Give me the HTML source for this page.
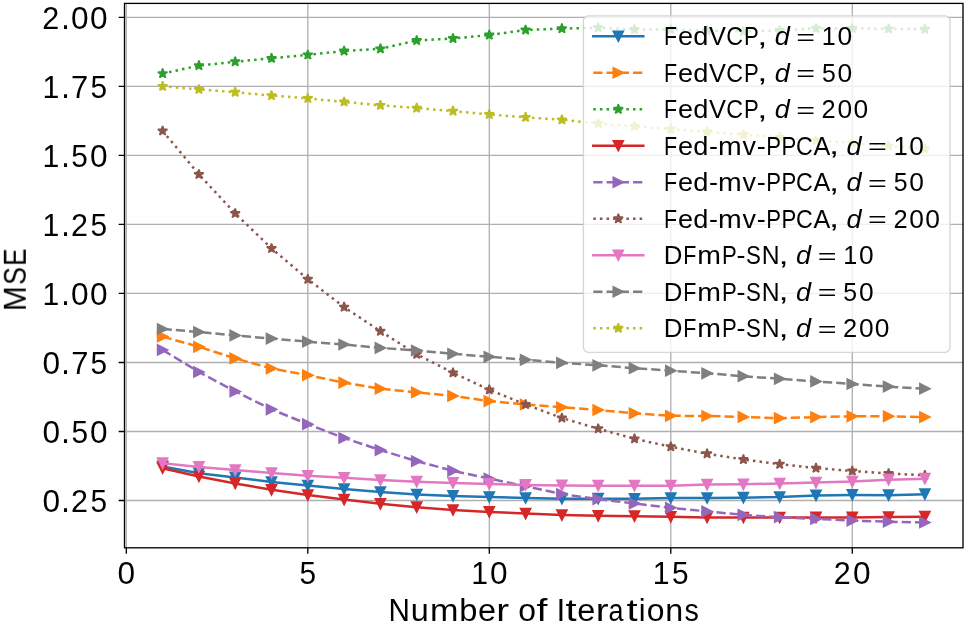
<!DOCTYPE html>
<html><head><meta charset="utf-8"><title>MSE vs Number of Iterations</title>
<style>html,body{margin:0;padding:0;background:#fff;overflow:hidden}svg{display:block}text{font-family:"Liberation Sans",sans-serif}</style></head>
<body><svg width="966" height="625" viewBox="0 0 966 625" font-family='"Liberation Sans", sans-serif'>
<rect width="966" height="625" fill="#fff"/>
<path d="M126.315 3.4V547.8M307.808 3.4V547.8M489.302 3.4V547.8M670.795 3.4V547.8M852.289 3.4V547.8M124.5 500.5H963M124.5 431.486H963M124.5 362.471H963M124.5 293.457H963M124.5 224.443H963M124.5 155.429H963M124.5 86.414H963M124.5 17.4H963" stroke="#b0b0b0" stroke-width="1.33" fill="none"/>
<clipPath id="ax"><rect x="124.5" y="3.4" width="838.5" height="544.4"/></clipPath>
<g clip-path="url(#ax)">
<path d="M162.614 466.4L198.912 473.3L235.211 477.4L271.51 482L307.808 485.6L344.107 489L380.406 492L416.705 494.5L453.003 495.9L489.302 497L525.601 498L561.899 498.7L598.198 498.7L634.497 498.8L670.795 498L707.094 498L743.393 497.7L779.692 497L815.99 495.4L852.289 494.9L888.588 495.2L924.886 494.2" stroke="#1f77b4" stroke-width="2.5" fill="none" stroke-linecap="square" stroke-linejoin="round"/>
<path d="M162.614 471.4L157.614 461.4L167.614 461.4ZM198.912 478.3L193.912 468.3L203.912 468.3ZM235.211 482.4L230.211 472.4L240.211 472.4ZM271.51 487L266.51 477L276.51 477ZM307.808 490.6L302.808 480.6L312.808 480.6ZM344.107 494L339.107 484L349.107 484ZM380.406 497L375.406 487L385.406 487ZM416.705 499.5L411.705 489.5L421.705 489.5ZM453.003 500.9L448.003 490.9L458.003 490.9ZM489.302 502L484.302 492L494.302 492ZM525.601 503L520.601 493L530.601 493ZM561.899 503.7L556.899 493.7L566.899 493.7ZM598.198 503.7L593.198 493.7L603.198 493.7ZM634.497 503.8L629.497 493.8L639.497 493.8ZM670.795 503L665.795 493L675.795 493ZM707.094 503L702.094 493L712.094 493ZM743.393 502.7L738.393 492.7L748.393 492.7ZM779.692 502L774.692 492L784.692 492ZM815.99 500.4L810.99 490.4L820.99 490.4ZM852.289 499.9L847.289 489.9L857.289 489.9ZM888.588 500.2L883.588 490.2L893.588 490.2ZM924.886 499.2L919.886 489.2L929.886 489.2Z" fill="#1f77b4" stroke="#1f77b4" stroke-width="1.67" stroke-linejoin="miter"/>
<path d="M162.614 336.6L198.912 346.8L235.211 358.4L271.51 368.5L307.808 375.2L344.107 382.7L380.406 388.7L416.705 392.4L453.003 395.9L489.302 401.1L525.601 404.5L561.899 407.3L598.198 410L634.497 413.3L670.795 415.8L707.094 416L743.393 416.9L779.692 418.2L815.99 417.1L852.289 416.3L888.588 416.3L924.886 417.1" stroke="#ff7f0e" stroke-width="2.5" fill="none" stroke-linecap="butt" stroke-linejoin="round" stroke-dasharray="9.25 4.00"/>
<path d="M167.614 336.6L157.614 331.6L157.614 341.6ZM203.912 346.8L193.912 341.8L193.912 351.8ZM240.211 358.4L230.211 353.4L230.211 363.4ZM276.51 368.5L266.51 363.5L266.51 373.5ZM312.808 375.2L302.808 370.2L302.808 380.2ZM349.107 382.7L339.107 377.7L339.107 387.7ZM385.406 388.7L375.406 383.7L375.406 393.7ZM421.705 392.4L411.705 387.4L411.705 397.4ZM458.003 395.9L448.003 390.9L448.003 400.9ZM494.302 401.1L484.302 396.1L484.302 406.1ZM530.601 404.5L520.601 399.5L520.601 409.5ZM566.899 407.3L556.899 402.3L556.899 412.3ZM603.198 410L593.198 405L593.198 415ZM639.497 413.3L629.497 408.3L629.497 418.3ZM675.795 415.8L665.795 410.8L665.795 420.8ZM712.094 416L702.094 411L702.094 421ZM748.393 416.9L738.393 411.9L738.393 421.9ZM784.692 418.2L774.692 413.2L774.692 423.2ZM820.99 417.1L810.99 412.1L810.99 422.1ZM857.289 416.3L847.289 411.3L847.289 421.3ZM893.588 416.3L883.588 411.3L883.588 421.3ZM929.886 417.1L919.886 412.1L919.886 422.1Z" fill="#ff7f0e" stroke="#ff7f0e" stroke-width="1.67" stroke-linejoin="miter"/>
<path d="M162.614 73.6L198.912 65.6L235.211 61.7L271.51 58.3L307.808 54.9L344.107 51L380.406 48.8L416.705 40.5L453.003 38.5L489.302 35L525.601 30L561.899 28.6L598.198 27.7L634.497 29.5L670.795 29.5L707.094 30.5L743.393 31.5L779.692 30.5L815.99 28.4L852.289 28.4L888.588 28.8L924.886 29.2" stroke="#2ca02c" stroke-width="2.5" fill="none" stroke-linecap="butt" stroke-linejoin="round" stroke-dasharray="2.50 4.12"/>
<path d="M162.614 68.6L161.491 72.055L157.858 72.055L160.797 74.19L159.675 77.645L162.614 75.51L165.553 77.645L164.43 74.19L167.369 72.055L163.736 72.055ZM198.912 60.6L197.79 64.055L194.157 64.055L197.096 66.19L195.973 69.645L198.912 67.51L201.851 69.645L200.729 66.19L203.668 64.055L200.035 64.055ZM235.211 56.7L234.088 60.155L230.456 60.155L233.395 62.29L232.272 65.745L235.211 63.61L238.15 65.745L237.027 62.29L239.966 60.155L236.334 60.155ZM271.51 53.3L270.387 56.755L266.754 56.755L269.693 58.89L268.571 62.345L271.51 60.21L274.449 62.345L273.326 58.89L276.265 56.755L272.632 56.755ZM307.808 49.9L306.686 53.355L303.053 53.355L305.992 55.49L304.87 58.945L307.808 56.81L310.747 58.945L309.625 55.49L312.564 53.355L308.931 53.355ZM344.107 46L342.985 49.455L339.352 49.455L342.291 51.59L341.168 55.045L344.107 52.91L347.046 55.045L345.923 51.59L348.862 49.455L345.23 49.455ZM380.406 43.8L379.283 47.255L375.651 47.255L378.589 49.39L377.467 52.845L380.406 50.71L383.345 52.845L382.222 49.39L385.161 47.255L381.528 47.255ZM416.705 35.5L415.582 38.955L411.949 38.955L414.888 41.09L413.766 44.545L416.705 42.41L419.643 44.545L418.521 41.09L421.46 38.955L417.827 38.955ZM453.003 33.5L451.881 36.955L448.248 36.955L451.187 39.09L450.064 42.545L453.003 40.41L455.942 42.545L454.82 39.09L457.759 36.955L454.126 36.955ZM489.302 30L488.179 33.455L484.547 33.455L487.486 35.59L486.363 39.045L489.302 36.91L492.241 39.045L491.118 35.59L494.057 33.455L490.425 33.455ZM525.601 25L524.478 28.455L520.845 28.455L523.784 30.59L522.662 34.045L525.601 31.91L528.54 34.045L527.417 30.59L530.356 28.455L526.723 28.455ZM561.899 23.6L560.777 27.055L557.144 27.055L560.083 29.19L558.96 32.645L561.899 30.51L564.838 32.645L563.716 29.19L566.655 27.055L563.022 27.055ZM598.198 22.7L597.075 26.155L593.443 26.155L596.382 28.29L595.259 31.745L598.198 29.61L601.137 31.745L600.014 28.29L602.953 26.155L599.321 26.155ZM634.497 24.5L633.374 27.955L629.741 27.955L632.68 30.09L631.558 33.545L634.497 31.41L637.436 33.545L636.313 30.09L639.252 27.955L635.619 27.955ZM670.795 24.5L669.673 27.955L666.04 27.955L668.979 30.09L667.857 33.545L670.795 31.41L673.734 33.545L672.612 30.09L675.551 27.955L671.918 27.955ZM707.094 25.5L705.972 28.955L702.339 28.955L705.278 31.09L704.155 34.545L707.094 32.41L710.033 34.545L708.911 31.09L711.849 28.955L708.217 28.955ZM743.393 26.5L742.27 29.955L738.638 29.955L741.577 32.09L740.454 35.545L743.393 33.41L746.332 35.545L745.209 32.09L748.148 29.955L744.515 29.955ZM779.692 25.5L778.569 28.955L774.936 28.955L777.875 31.09L776.753 34.545L779.692 32.41L782.63 34.545L781.508 31.09L784.447 28.955L780.814 28.955ZM815.99 23.4L814.868 26.855L811.235 26.855L814.174 28.99L813.051 32.445L815.99 30.31L818.929 32.445L817.807 28.99L820.746 26.855L817.113 26.855ZM852.289 23.4L851.166 26.855L847.534 26.855L850.473 28.99L849.35 32.445L852.289 30.31L855.228 32.445L854.105 28.99L857.044 26.855L853.412 26.855ZM888.588 23.8L887.465 27.255L883.832 27.255L886.771 29.39L885.649 32.845L888.588 30.71L891.527 32.845L890.404 29.39L893.343 27.255L889.71 27.255ZM924.886 24.2L923.764 27.655L920.131 27.655L923.07 29.79L921.947 33.245L924.886 31.11L927.825 33.245L926.703 29.79L929.642 27.655L926.009 27.655Z" fill="#2ca02c" stroke="#2ca02c" stroke-width="1.67" stroke-linejoin="bevel"/>
<path d="M162.614 468.2L198.912 476.5L235.211 483.4L271.51 489.8L307.808 495.1L344.107 499.6L380.406 503.8L416.705 507.2L453.003 510L489.302 511.9L525.601 513.6L561.899 515.1L598.198 515.8L634.497 516.2L670.795 516.8L707.094 517.4L743.393 517.5L779.692 517.5L815.99 517.4L852.289 517.4L888.588 517.1L924.886 516.7" stroke="#d62728" stroke-width="2.5" fill="none" stroke-linecap="square" stroke-linejoin="round"/>
<path d="M162.614 473.2L157.614 463.2L167.614 463.2ZM198.912 481.5L193.912 471.5L203.912 471.5ZM235.211 488.4L230.211 478.4L240.211 478.4ZM271.51 494.8L266.51 484.8L276.51 484.8ZM307.808 500.1L302.808 490.1L312.808 490.1ZM344.107 504.6L339.107 494.6L349.107 494.6ZM380.406 508.8L375.406 498.8L385.406 498.8ZM416.705 512.2L411.705 502.2L421.705 502.2ZM453.003 515L448.003 505L458.003 505ZM489.302 516.9L484.302 506.9L494.302 506.9ZM525.601 518.6L520.601 508.6L530.601 508.6ZM561.899 520.1L556.899 510.1L566.899 510.1ZM598.198 520.8L593.198 510.8L603.198 510.8ZM634.497 521.2L629.497 511.2L639.497 511.2ZM670.795 521.8L665.795 511.8L675.795 511.8ZM707.094 522.4L702.094 512.4L712.094 512.4ZM743.393 522.5L738.393 512.5L748.393 512.5ZM779.692 522.5L774.692 512.5L784.692 512.5ZM815.99 522.4L810.99 512.4L820.99 512.4ZM852.289 522.4L847.289 512.4L857.289 512.4ZM888.588 522.1L883.588 512.1L893.588 512.1ZM924.886 521.7L919.886 511.7L929.886 511.7Z" fill="#d62728" stroke="#d62728" stroke-width="1.67" stroke-linejoin="miter"/>
<path d="M162.614 349.9L198.912 372L235.211 391.4L271.51 409.3L307.808 424.2L344.107 438L380.406 450.1L416.705 461.2L453.003 470.8L489.302 478.6L525.601 486.2L561.899 494.1L598.198 499.1L634.497 503.5L670.795 507.8L707.094 511.4L743.393 514.8L779.692 517.2L815.99 518.9L852.289 520.6L888.588 521.7L924.886 522.5" stroke="#9467bd" stroke-width="2.5" fill="none" stroke-linecap="butt" stroke-linejoin="round" stroke-dasharray="9.25 4.00"/>
<path d="M167.614 349.9L157.614 344.9L157.614 354.9ZM203.912 372L193.912 367L193.912 377ZM240.211 391.4L230.211 386.4L230.211 396.4ZM276.51 409.3L266.51 404.3L266.51 414.3ZM312.808 424.2L302.808 419.2L302.808 429.2ZM349.107 438L339.107 433L339.107 443ZM385.406 450.1L375.406 445.1L375.406 455.1ZM421.705 461.2L411.705 456.2L411.705 466.2ZM458.003 470.8L448.003 465.8L448.003 475.8ZM494.302 478.6L484.302 473.6L484.302 483.6ZM530.601 486.2L520.601 481.2L520.601 491.2ZM566.899 494.1L556.899 489.1L556.899 499.1ZM603.198 499.1L593.198 494.1L593.198 504.1ZM639.497 503.5L629.497 498.5L629.497 508.5ZM675.795 507.8L665.795 502.8L665.795 512.8ZM712.094 511.4L702.094 506.4L702.094 516.4ZM748.393 514.8L738.393 509.8L738.393 519.8ZM784.692 517.2L774.692 512.2L774.692 522.2ZM820.99 518.9L810.99 513.9L810.99 523.9ZM857.289 520.6L847.289 515.6L847.289 525.6ZM893.588 521.7L883.588 516.7L883.588 526.7ZM929.886 522.5L919.886 517.5L919.886 527.5Z" fill="#9467bd" stroke="#9467bd" stroke-width="1.67" stroke-linejoin="miter"/>
<path d="M162.614 130.9L198.912 174.4L235.211 213.4L271.51 248.4L307.808 279.2L344.107 307.1L380.406 331.2L416.705 354.2L453.003 372.8L489.302 389.8L525.601 404.5L561.899 418L598.198 428.7L634.497 438.8L670.795 446.7L707.094 453.7L743.393 459.5L779.692 464.2L815.99 468.1L852.289 471L888.588 473.5L924.886 475.3" stroke="#8c564b" stroke-width="2.5" fill="none" stroke-linecap="butt" stroke-linejoin="round" stroke-dasharray="2.50 4.12"/>
<path d="M162.614 125.9L161.491 129.355L157.858 129.355L160.797 131.49L159.675 134.945L162.614 132.81L165.553 134.945L164.43 131.49L167.369 129.355L163.736 129.355ZM198.912 169.4L197.79 172.855L194.157 172.855L197.096 174.99L195.973 178.445L198.912 176.31L201.851 178.445L200.729 174.99L203.668 172.855L200.035 172.855ZM235.211 208.4L234.088 211.855L230.456 211.855L233.395 213.99L232.272 217.445L235.211 215.31L238.15 217.445L237.027 213.99L239.966 211.855L236.334 211.855ZM271.51 243.4L270.387 246.855L266.754 246.855L269.693 248.99L268.571 252.445L271.51 250.31L274.449 252.445L273.326 248.99L276.265 246.855L272.632 246.855ZM307.808 274.2L306.686 277.655L303.053 277.655L305.992 279.79L304.87 283.245L307.808 281.11L310.747 283.245L309.625 279.79L312.564 277.655L308.931 277.655ZM344.107 302.1L342.985 305.555L339.352 305.555L342.291 307.69L341.168 311.145L344.107 309.01L347.046 311.145L345.923 307.69L348.862 305.555L345.23 305.555ZM380.406 326.2L379.283 329.655L375.651 329.655L378.589 331.79L377.467 335.245L380.406 333.11L383.345 335.245L382.222 331.79L385.161 329.655L381.528 329.655ZM416.705 349.2L415.582 352.655L411.949 352.655L414.888 354.79L413.766 358.245L416.705 356.11L419.643 358.245L418.521 354.79L421.46 352.655L417.827 352.655ZM453.003 367.8L451.881 371.255L448.248 371.255L451.187 373.39L450.064 376.845L453.003 374.71L455.942 376.845L454.82 373.39L457.759 371.255L454.126 371.255ZM489.302 384.8L488.179 388.255L484.547 388.255L487.486 390.39L486.363 393.845L489.302 391.71L492.241 393.845L491.118 390.39L494.057 388.255L490.425 388.255ZM525.601 399.5L524.478 402.955L520.845 402.955L523.784 405.09L522.662 408.545L525.601 406.41L528.54 408.545L527.417 405.09L530.356 402.955L526.723 402.955ZM561.899 413L560.777 416.455L557.144 416.455L560.083 418.59L558.96 422.045L561.899 419.91L564.838 422.045L563.716 418.59L566.655 416.455L563.022 416.455ZM598.198 423.7L597.075 427.155L593.443 427.155L596.382 429.29L595.259 432.745L598.198 430.61L601.137 432.745L600.014 429.29L602.953 427.155L599.321 427.155ZM634.497 433.8L633.374 437.255L629.741 437.255L632.68 439.39L631.558 442.845L634.497 440.71L637.436 442.845L636.313 439.39L639.252 437.255L635.619 437.255ZM670.795 441.7L669.673 445.155L666.04 445.155L668.979 447.29L667.857 450.745L670.795 448.61L673.734 450.745L672.612 447.29L675.551 445.155L671.918 445.155ZM707.094 448.7L705.972 452.155L702.339 452.155L705.278 454.29L704.155 457.745L707.094 455.61L710.033 457.745L708.911 454.29L711.849 452.155L708.217 452.155ZM743.393 454.5L742.27 457.955L738.638 457.955L741.577 460.09L740.454 463.545L743.393 461.41L746.332 463.545L745.209 460.09L748.148 457.955L744.515 457.955ZM779.692 459.2L778.569 462.655L774.936 462.655L777.875 464.79L776.753 468.245L779.692 466.11L782.63 468.245L781.508 464.79L784.447 462.655L780.814 462.655ZM815.99 463.1L814.868 466.555L811.235 466.555L814.174 468.69L813.051 472.145L815.99 470.01L818.929 472.145L817.807 468.69L820.746 466.555L817.113 466.555ZM852.289 466L851.166 469.455L847.534 469.455L850.473 471.59L849.35 475.045L852.289 472.91L855.228 475.045L854.105 471.59L857.044 469.455L853.412 469.455ZM888.588 468.5L887.465 471.955L883.832 471.955L886.771 474.09L885.649 477.545L888.588 475.41L891.527 477.545L890.404 474.09L893.343 471.955L889.71 471.955ZM924.886 470.3L923.764 473.755L920.131 473.755L923.07 475.89L921.947 479.345L924.886 477.21L927.825 479.345L926.703 475.89L929.642 473.755L926.009 473.755Z" fill="#8c564b" stroke="#8c564b" stroke-width="1.67" stroke-linejoin="bevel"/>
<path d="M162.614 463.2L198.912 466.9L235.211 470.1L271.51 473L307.808 475.8L344.107 477.8L380.406 480.1L416.705 481.7L453.003 482.9L489.302 483.9L525.601 484.9L561.899 485.4L598.198 485.7L634.497 485.7L670.795 485.7L707.094 484.6L743.393 484.3L779.692 483.5L815.99 482.6L852.289 481.6L888.588 479.7L924.886 478.7" stroke="#e377c2" stroke-width="2.5" fill="none" stroke-linecap="square" stroke-linejoin="round"/>
<path d="M162.614 468.2L157.614 458.2L167.614 458.2ZM198.912 471.9L193.912 461.9L203.912 461.9ZM235.211 475.1L230.211 465.1L240.211 465.1ZM271.51 478L266.51 468L276.51 468ZM307.808 480.8L302.808 470.8L312.808 470.8ZM344.107 482.8L339.107 472.8L349.107 472.8ZM380.406 485.1L375.406 475.1L385.406 475.1ZM416.705 486.7L411.705 476.7L421.705 476.7ZM453.003 487.9L448.003 477.9L458.003 477.9ZM489.302 488.9L484.302 478.9L494.302 478.9ZM525.601 489.9L520.601 479.9L530.601 479.9ZM561.899 490.4L556.899 480.4L566.899 480.4ZM598.198 490.7L593.198 480.7L603.198 480.7ZM634.497 490.7L629.497 480.7L639.497 480.7ZM670.795 490.7L665.795 480.7L675.795 480.7ZM707.094 489.6L702.094 479.6L712.094 479.6ZM743.393 489.3L738.393 479.3L748.393 479.3ZM779.692 488.5L774.692 478.5L784.692 478.5ZM815.99 487.6L810.99 477.6L820.99 477.6ZM852.289 486.6L847.289 476.6L857.289 476.6ZM888.588 484.7L883.588 474.7L893.588 474.7ZM924.886 483.7L919.886 473.7L929.886 473.7Z" fill="#e377c2" stroke="#e377c2" stroke-width="1.67" stroke-linejoin="miter"/>
<path d="M162.614 329L198.912 332L235.211 335.4L271.51 338.6L307.808 341.7L344.107 344.5L380.406 347.9L416.705 350.5L453.003 353.8L489.302 356.8L525.601 359.8L561.899 362.8L598.198 365.3L634.497 368.2L670.795 370.7L707.094 373.3L743.393 376.2L779.692 378.8L815.99 381.4L852.289 384L888.588 386.6L924.886 388.7" stroke="#7f7f7f" stroke-width="2.5" fill="none" stroke-linecap="butt" stroke-linejoin="round" stroke-dasharray="9.25 4.00"/>
<path d="M167.614 329L157.614 324L157.614 334ZM203.912 332L193.912 327L193.912 337ZM240.211 335.4L230.211 330.4L230.211 340.4ZM276.51 338.6L266.51 333.6L266.51 343.6ZM312.808 341.7L302.808 336.7L302.808 346.7ZM349.107 344.5L339.107 339.5L339.107 349.5ZM385.406 347.9L375.406 342.9L375.406 352.9ZM421.705 350.5L411.705 345.5L411.705 355.5ZM458.003 353.8L448.003 348.8L448.003 358.8ZM494.302 356.8L484.302 351.8L484.302 361.8ZM530.601 359.8L520.601 354.8L520.601 364.8ZM566.899 362.8L556.899 357.8L556.899 367.8ZM603.198 365.3L593.198 360.3L593.198 370.3ZM639.497 368.2L629.497 363.2L629.497 373.2ZM675.795 370.7L665.795 365.7L665.795 375.7ZM712.094 373.3L702.094 368.3L702.094 378.3ZM748.393 376.2L738.393 371.2L738.393 381.2ZM784.692 378.8L774.692 373.8L774.692 383.8ZM820.99 381.4L810.99 376.4L810.99 386.4ZM857.289 384L847.289 379L847.289 389ZM893.588 386.6L883.588 381.6L883.588 391.6ZM929.886 388.7L919.886 383.7L919.886 393.7Z" fill="#7f7f7f" stroke="#7f7f7f" stroke-width="1.67" stroke-linejoin="miter"/>
<path d="M162.614 86.3L198.912 89.4L235.211 92.2L271.51 95.6L307.808 98.4L344.107 101.9L380.406 105.3L416.705 108.1L453.003 111.1L489.302 114.4L525.601 117.3L561.899 119.8L598.198 123.5L634.497 126.2L670.795 129.1L707.094 131.7L743.393 134.7L779.692 137.3L815.99 140.3L852.289 142.9L888.588 145.9L924.886 148.9" stroke="#bcbd22" stroke-width="2.5" fill="none" stroke-linecap="butt" stroke-linejoin="round" stroke-dasharray="2.50 4.12"/>
<path d="M162.614 81.3L161.491 84.755L157.858 84.755L160.797 86.89L159.675 90.345L162.614 88.21L165.553 90.345L164.43 86.89L167.369 84.755L163.736 84.755ZM198.912 84.4L197.79 87.855L194.157 87.855L197.096 89.99L195.973 93.445L198.912 91.31L201.851 93.445L200.729 89.99L203.668 87.855L200.035 87.855ZM235.211 87.2L234.088 90.655L230.456 90.655L233.395 92.79L232.272 96.245L235.211 94.11L238.15 96.245L237.027 92.79L239.966 90.655L236.334 90.655ZM271.51 90.6L270.387 94.055L266.754 94.055L269.693 96.19L268.571 99.645L271.51 97.51L274.449 99.645L273.326 96.19L276.265 94.055L272.632 94.055ZM307.808 93.4L306.686 96.855L303.053 96.855L305.992 98.99L304.87 102.445L307.808 100.31L310.747 102.445L309.625 98.99L312.564 96.855L308.931 96.855ZM344.107 96.9L342.985 100.355L339.352 100.355L342.291 102.49L341.168 105.945L344.107 103.81L347.046 105.945L345.923 102.49L348.862 100.355L345.23 100.355ZM380.406 100.3L379.283 103.755L375.651 103.755L378.589 105.89L377.467 109.345L380.406 107.21L383.345 109.345L382.222 105.89L385.161 103.755L381.528 103.755ZM416.705 103.1L415.582 106.555L411.949 106.555L414.888 108.69L413.766 112.145L416.705 110.01L419.643 112.145L418.521 108.69L421.46 106.555L417.827 106.555ZM453.003 106.1L451.881 109.555L448.248 109.555L451.187 111.69L450.064 115.145L453.003 113.01L455.942 115.145L454.82 111.69L457.759 109.555L454.126 109.555ZM489.302 109.4L488.179 112.855L484.547 112.855L487.486 114.99L486.363 118.445L489.302 116.31L492.241 118.445L491.118 114.99L494.057 112.855L490.425 112.855ZM525.601 112.3L524.478 115.755L520.845 115.755L523.784 117.89L522.662 121.345L525.601 119.21L528.54 121.345L527.417 117.89L530.356 115.755L526.723 115.755ZM561.899 114.8L560.777 118.255L557.144 118.255L560.083 120.39L558.96 123.845L561.899 121.71L564.838 123.845L563.716 120.39L566.655 118.255L563.022 118.255ZM598.198 118.5L597.075 121.955L593.443 121.955L596.382 124.09L595.259 127.545L598.198 125.41L601.137 127.545L600.014 124.09L602.953 121.955L599.321 121.955ZM634.497 121.2L633.374 124.655L629.741 124.655L632.68 126.79L631.558 130.245L634.497 128.11L637.436 130.245L636.313 126.79L639.252 124.655L635.619 124.655ZM670.795 124.1L669.673 127.555L666.04 127.555L668.979 129.69L667.857 133.145L670.795 131.01L673.734 133.145L672.612 129.69L675.551 127.555L671.918 127.555ZM707.094 126.7L705.972 130.155L702.339 130.155L705.278 132.29L704.155 135.745L707.094 133.61L710.033 135.745L708.911 132.29L711.849 130.155L708.217 130.155ZM743.393 129.7L742.27 133.155L738.638 133.155L741.577 135.29L740.454 138.745L743.393 136.61L746.332 138.745L745.209 135.29L748.148 133.155L744.515 133.155ZM779.692 132.3L778.569 135.755L774.936 135.755L777.875 137.89L776.753 141.345L779.692 139.21L782.63 141.345L781.508 137.89L784.447 135.755L780.814 135.755ZM815.99 135.3L814.868 138.755L811.235 138.755L814.174 140.89L813.051 144.345L815.99 142.21L818.929 144.345L817.807 140.89L820.746 138.755L817.113 138.755ZM852.289 137.9L851.166 141.355L847.534 141.355L850.473 143.49L849.35 146.945L852.289 144.81L855.228 146.945L854.105 143.49L857.044 141.355L853.412 141.355ZM888.588 140.9L887.465 144.355L883.832 144.355L886.771 146.49L885.649 149.945L888.588 147.81L891.527 149.945L890.404 146.49L893.343 144.355L889.71 144.355ZM924.886 143.9L923.764 147.355L920.131 147.355L923.07 149.49L921.947 152.945L924.886 150.81L927.825 152.945L926.703 149.49L929.642 147.355L926.009 147.355Z" fill="#bcbd22" stroke="#bcbd22" stroke-width="1.67" stroke-linejoin="bevel"/>
</g>
<rect x="124.5" y="3.4" width="838.5" height="544.4" fill="none" stroke="#000" stroke-width="1.33" stroke-linejoin="miter"/>
<path d="M118.67 500.5H124.5M118.67 431.486H124.5M118.67 362.471H124.5M118.67 293.457H124.5M118.67 224.443H124.5M118.67 155.429H124.5M118.67 86.414H124.5M118.67 17.4H124.5M126.315 547.8V553.63M307.808 547.8V553.63M489.302 547.8V553.63M670.795 547.8V553.63M852.289 547.8V553.63" stroke="#000" stroke-width="1.33" fill="none"/>
<rect x="583.4" y="15.8" width="366.6" height="336.5" rx="5" ry="5" fill="#fff" fill-opacity="0.8" stroke="#ccc" stroke-opacity="0.8" stroke-width="1.33"/>
<path d="M593.3 36.25L643.3 36.25" stroke="#1f77b4" stroke-width="2.5" fill="none" stroke-linecap="square" stroke-linejoin="round"/>
<path d="M618.3 41.25L613.3 31.25L623.3 31.25Z" fill="#1f77b4" stroke="#1f77b4" stroke-width="1.67" stroke-linejoin="miter"/>
<path d="M593.3 72.75L643.3 72.75" stroke="#ff7f0e" stroke-width="2.5" fill="none" stroke-linecap="butt" stroke-linejoin="round" stroke-dasharray="9.25 4.00"/>
<path d="M623.3 72.75L613.3 67.75L613.3 77.75Z" fill="#ff7f0e" stroke="#ff7f0e" stroke-width="1.67" stroke-linejoin="miter"/>
<path d="M593.3 109.25L643.3 109.25" stroke="#2ca02c" stroke-width="2.5" fill="none" stroke-linecap="butt" stroke-linejoin="round" stroke-dasharray="2.50 4.12"/>
<path d="M618.3 104.25L617.177 107.705L613.545 107.705L616.484 109.84L615.361 113.295L618.3 111.16L621.239 113.295L620.116 109.84L623.055 107.705L619.423 107.705Z" fill="#2ca02c" stroke="#2ca02c" stroke-width="1.67" stroke-linejoin="bevel"/>
<path d="M593.3 145.75L643.3 145.75" stroke="#d62728" stroke-width="2.5" fill="none" stroke-linecap="square" stroke-linejoin="round"/>
<path d="M618.3 150.75L613.3 140.75L623.3 140.75Z" fill="#d62728" stroke="#d62728" stroke-width="1.67" stroke-linejoin="miter"/>
<path d="M593.3 182.25L643.3 182.25" stroke="#9467bd" stroke-width="2.5" fill="none" stroke-linecap="butt" stroke-linejoin="round" stroke-dasharray="9.25 4.00"/>
<path d="M623.3 182.25L613.3 177.25L613.3 187.25Z" fill="#9467bd" stroke="#9467bd" stroke-width="1.67" stroke-linejoin="miter"/>
<path d="M593.3 218.75L643.3 218.75" stroke="#8c564b" stroke-width="2.5" fill="none" stroke-linecap="butt" stroke-linejoin="round" stroke-dasharray="2.50 4.12"/>
<path d="M618.3 213.75L617.177 217.205L613.545 217.205L616.484 219.34L615.361 222.795L618.3 220.66L621.239 222.795L620.116 219.34L623.055 217.205L619.423 217.205Z" fill="#8c564b" stroke="#8c564b" stroke-width="1.67" stroke-linejoin="bevel"/>
<path d="M593.3 255.25L643.3 255.25" stroke="#e377c2" stroke-width="2.5" fill="none" stroke-linecap="square" stroke-linejoin="round"/>
<path d="M618.3 260.25L613.3 250.25L623.3 250.25Z" fill="#e377c2" stroke="#e377c2" stroke-width="1.67" stroke-linejoin="miter"/>
<path d="M593.3 291.75L643.3 291.75" stroke="#7f7f7f" stroke-width="2.5" fill="none" stroke-linecap="butt" stroke-linejoin="round" stroke-dasharray="9.25 4.00"/>
<path d="M623.3 291.75L613.3 286.75L613.3 296.75Z" fill="#7f7f7f" stroke="#7f7f7f" stroke-width="1.67" stroke-linejoin="miter"/>
<path d="M593.3 328.25L643.3 328.25" stroke="#bcbd22" stroke-width="2.5" fill="none" stroke-linecap="butt" stroke-linejoin="round" stroke-dasharray="2.50 4.12"/>
<path d="M618.3 323.25L617.177 326.705L613.545 326.705L616.484 328.84L615.361 332.295L618.3 330.16L621.239 332.295L620.116 328.84L623.055 326.705L619.423 326.705Z" fill="#bcbd22" stroke="#bcbd22" stroke-width="1.67" stroke-linejoin="bevel"/>
<g fill="#000" style="will-change:opacity;opacity:0.999"><text font-size="30" transform="translate(41.598 29.17)"><tspan x="0.666" y="0" font-size="31.888" textLength="16.95" lengthAdjust="spacingAndGlyphs">2</tspan><tspan x="19.326" y="0" font-size="34.805" textLength="9.027" lengthAdjust="spacingAndGlyphs">.</tspan><tspan x="29.366" y="0.114" font-size="32.051" textLength="17.588" lengthAdjust="spacingAndGlyphs">0</tspan><tspan x="48.453" y="0.114" font-size="32.051" textLength="17.588" lengthAdjust="spacingAndGlyphs">0</tspan></text>
<text font-size="30" transform="translate(41.614 98.173)"><tspan x="0.995" y="0" font-size="31.791" textLength="16.797" lengthAdjust="spacingAndGlyphs">1</tspan><tspan x="19.326" y="0" font-size="34.805" textLength="9.027" lengthAdjust="spacingAndGlyphs">.</tspan><tspan x="29.498" y="0" font-size="31.791" textLength="17.204" lengthAdjust="spacingAndGlyphs">7</tspan><tspan x="48.831" y="0.114" font-size="31.957" textLength="16.6" lengthAdjust="spacingAndGlyphs">5</tspan></text>
<text font-size="30" transform="translate(41.6 167.17)"><tspan x="0.995" y="0" font-size="31.791" textLength="16.797" lengthAdjust="spacingAndGlyphs">1</tspan><tspan x="19.326" y="0" font-size="34.805" textLength="9.027" lengthAdjust="spacingAndGlyphs">.</tspan><tspan x="29.744" y="0.114" font-size="31.957" textLength="16.6" lengthAdjust="spacingAndGlyphs">5</tspan><tspan x="48.453" y="0.114" font-size="32.051" textLength="17.588" lengthAdjust="spacingAndGlyphs">0</tspan></text>
<text font-size="30" transform="translate(41.614 236.17)"><tspan x="0.995" y="0" font-size="31.791" textLength="16.797" lengthAdjust="spacingAndGlyphs">1</tspan><tspan x="19.326" y="0" font-size="34.805" textLength="9.027" lengthAdjust="spacingAndGlyphs">.</tspan><tspan x="29.289" y="0" font-size="31.888" textLength="16.95" lengthAdjust="spacingAndGlyphs">2</tspan><tspan x="48.831" y="0.114" font-size="31.957" textLength="16.6" lengthAdjust="spacingAndGlyphs">5</tspan></text>
<text font-size="30" transform="translate(41.6 305.27)"><tspan x="0.995" y="0" font-size="31.791" textLength="16.797" lengthAdjust="spacingAndGlyphs">1</tspan><tspan x="19.326" y="0" font-size="34.805" textLength="9.027" lengthAdjust="spacingAndGlyphs">.</tspan><tspan x="29.366" y="0.114" font-size="32.051" textLength="17.588" lengthAdjust="spacingAndGlyphs">0</tspan><tspan x="48.453" y="0.114" font-size="32.051" textLength="17.588" lengthAdjust="spacingAndGlyphs">0</tspan></text>
<text font-size="30" transform="translate(41.672 374.27)"><tspan x="0.743" y="0.114" font-size="32.051" textLength="17.588" lengthAdjust="spacingAndGlyphs">0</tspan><tspan x="19.326" y="0" font-size="34.805" textLength="9.027" lengthAdjust="spacingAndGlyphs">.</tspan><tspan x="29.498" y="0" font-size="31.791" textLength="17.204" lengthAdjust="spacingAndGlyphs">7</tspan><tspan x="48.831" y="0.114" font-size="31.957" textLength="16.6" lengthAdjust="spacingAndGlyphs">5</tspan></text>
<text font-size="30" transform="translate(41.658 443.27)"><tspan x="0.743" y="0.114" font-size="32.051" textLength="17.588" lengthAdjust="spacingAndGlyphs">0</tspan><tspan x="19.326" y="0" font-size="34.805" textLength="9.027" lengthAdjust="spacingAndGlyphs">.</tspan><tspan x="29.744" y="0.114" font-size="31.957" textLength="16.6" lengthAdjust="spacingAndGlyphs">5</tspan><tspan x="48.453" y="0.114" font-size="32.051" textLength="17.588" lengthAdjust="spacingAndGlyphs">0</tspan></text>
<text font-size="30" transform="translate(41.672 512.27)"><tspan x="0.743" y="0.114" font-size="32.051" textLength="17.588" lengthAdjust="spacingAndGlyphs">0</tspan><tspan x="19.326" y="0" font-size="34.805" textLength="9.027" lengthAdjust="spacingAndGlyphs">.</tspan><tspan x="29.289" y="0" font-size="31.888" textLength="16.95" lengthAdjust="spacingAndGlyphs">2</tspan><tspan x="48.831" y="0.114" font-size="31.957" textLength="16.6" lengthAdjust="spacingAndGlyphs">5</tspan></text>
<text font-size="30" transform="translate(116.813 584.27)"><tspan x="0.743" y="0.114" font-size="32.051" textLength="17.588" lengthAdjust="spacingAndGlyphs">0</tspan></text>
<text font-size="30" transform="translate(298.309 584.273)"><tspan x="1.121" y="0.114" font-size="31.957" textLength="16.6" lengthAdjust="spacingAndGlyphs">5</tspan></text>
<text font-size="30" transform="translate(470.211 584.27)"><tspan x="0.995" y="0" font-size="31.791" textLength="16.797" lengthAdjust="spacingAndGlyphs">1</tspan><tspan x="19.83" y="0.114" font-size="32.051" textLength="17.588" lengthAdjust="spacingAndGlyphs">0</tspan></text>
<text font-size="30" transform="translate(651.675 584.273)"><tspan x="0.995" y="0" font-size="31.791" textLength="16.797" lengthAdjust="spacingAndGlyphs">1</tspan><tspan x="20.207" y="0.114" font-size="31.957" textLength="16.6" lengthAdjust="spacingAndGlyphs">5</tspan></text>
<text font-size="30" transform="translate(833.21 584.27)"><tspan x="0.666" y="0" font-size="31.888" textLength="16.95" lengthAdjust="spacingAndGlyphs">2</tspan><tspan x="19.83" y="0.114" font-size="32.051" textLength="17.588" lengthAdjust="spacingAndGlyphs">0</tspan></text>
<text font-size="30" transform="translate(387.969 620.984)"><tspan x="0.513" y="0" font-size="31.791" textLength="21.398" lengthAdjust="spacingAndGlyphs">N</tspan><tspan x="22.891" y="0.114" font-size="32.015" textLength="17.987" lengthAdjust="spacingAndGlyphs">u</tspan><tspan x="41.908" y="0" font-size="31.222" textLength="28.477" lengthAdjust="spacingAndGlyphs">m</tspan><tspan x="71.298" y="0.118" font-size="31.621" textLength="18.156" lengthAdjust="spacingAndGlyphs">b</tspan><tspan x="90" y="0.119" font-size="31.444" textLength="18.023" lengthAdjust="spacingAndGlyphs">e</tspan><tspan x="108.35" y="0" font-size="31.222" textLength="12.8" lengthAdjust="spacingAndGlyphs">r</tspan><tspan x="121.15" y="0"> </tspan><tspan x="130.364" y="0.119" font-size="31.444" textLength="17.74" lengthAdjust="spacingAndGlyphs">o</tspan><tspan x="148.535" y="0" font-size="31.501" textLength="10.944" lengthAdjust="spacingAndGlyphs">f</tspan><tspan x="159.478" y="0"> </tspan><tspan x="168.518" y="0" font-size="31.791" textLength="8.811" lengthAdjust="spacingAndGlyphs">I</tspan><tspan x="177.548" y="-0.252" font-size="32.196" textLength="11.138" lengthAdjust="spacingAndGlyphs">t</tspan><tspan x="189.389" y="0.119" font-size="31.444" textLength="18.023" lengthAdjust="spacingAndGlyphs">e</tspan><tspan x="207.739" y="0" font-size="31.222" textLength="12.8" lengthAdjust="spacingAndGlyphs">r</tspan><tspan x="220.556" y="0.119" font-size="31.444" textLength="15.007" lengthAdjust="spacingAndGlyphs">a</tspan><tspan x="238.486" y="-0.252" font-size="32.196" textLength="11.138" lengthAdjust="spacingAndGlyphs">t</tspan><tspan x="250.824" y="0" font-size="31.459" textLength="6.813" lengthAdjust="spacingAndGlyphs">i</tspan><tspan x="258.699" y="0.119" font-size="31.444" textLength="17.74" lengthAdjust="spacingAndGlyphs">o</tspan><tspan x="277.313" y="0" font-size="31.222" textLength="17.993" lengthAdjust="spacingAndGlyphs">n</tspan><tspan x="296.578" y="0.119" font-size="31.528" textLength="14.378" lengthAdjust="spacingAndGlyphs">s</tspan></text>
<text font-size="30" transform="matrix(0 -1 1 0 25.82 311.602)"><tspan x="0.49" y="0" font-size="31.791" textLength="24.919" lengthAdjust="spacingAndGlyphs">M</tspan><tspan x="26.648" y="0.114" font-size="32.051" textLength="17.835" lengthAdjust="spacingAndGlyphs">S</tspan><tspan x="45.738" y="0" font-size="31.791" textLength="17.34" lengthAdjust="spacingAndGlyphs">E</tspan></text>
<text font-size="25" transform="translate(663.3 45.25)"><tspan x="0.695" y="-0.004" font-size="26.493" textLength="13.088" lengthAdjust="spacingAndGlyphs">F</tspan><tspan x="14.612" y="0.096" font-size="26.203" textLength="15.019" lengthAdjust="spacingAndGlyphs">e</tspan><tspan x="29.999" y="0.094" font-size="26.351" textLength="15.111" lengthAdjust="spacingAndGlyphs">d</tspan><tspan x="45.714" y="-0.004" font-size="26.493" textLength="16.922" lengthAdjust="spacingAndGlyphs">V</tspan><tspan x="62.956" y="0.091" font-size="26.709" textLength="16.762" lengthAdjust="spacingAndGlyphs">C</tspan><tspan x="80.827" y="-0.004" font-size="26.493" textLength="14.75" lengthAdjust="spacingAndGlyphs">P</tspan><tspan x="93.921" y="-0.37" font-size="25.58" textLength="10.118" lengthAdjust="spacingAndGlyphs">,</tspan><tspan x="104.039" y="0"> </tspan><tspan x="111.395" y="0.082" font-size="26.334" textLength="15.03" lengthAdjust="spacingAndGlyphs" font-style="italic">d</tspan><tspan x="126.425" y="0"> </tspan><tspan x="132.973" y="-0.624" font-size="21.891" textLength="18.81" lengthAdjust="spacingAndGlyphs">=</tspan><tspan x="151.782" y="0"> </tspan><tspan x="158.544" y="-0.004" font-size="26.493" textLength="13.998" lengthAdjust="spacingAndGlyphs">1</tspan><tspan x="174.24" y="0.091" font-size="26.709" textLength="14.657" lengthAdjust="spacingAndGlyphs">0</tspan></text>
<text font-size="25" transform="translate(663.3 81.75)"><tspan x="0.695" y="-0.004" font-size="26.493" textLength="13.088" lengthAdjust="spacingAndGlyphs">F</tspan><tspan x="14.612" y="0.096" font-size="26.203" textLength="15.019" lengthAdjust="spacingAndGlyphs">e</tspan><tspan x="29.999" y="0.094" font-size="26.351" textLength="15.111" lengthAdjust="spacingAndGlyphs">d</tspan><tspan x="45.714" y="-0.004" font-size="26.493" textLength="16.922" lengthAdjust="spacingAndGlyphs">V</tspan><tspan x="62.956" y="0.091" font-size="26.709" textLength="16.762" lengthAdjust="spacingAndGlyphs">C</tspan><tspan x="80.827" y="-0.004" font-size="26.493" textLength="14.75" lengthAdjust="spacingAndGlyphs">P</tspan><tspan x="93.921" y="-0.37" font-size="25.58" textLength="10.118" lengthAdjust="spacingAndGlyphs">,</tspan><tspan x="104.039" y="0"> </tspan><tspan x="111.395" y="0.082" font-size="26.334" textLength="15.03" lengthAdjust="spacingAndGlyphs" font-style="italic">d</tspan><tspan x="126.425" y="0"> </tspan><tspan x="132.973" y="-0.624" font-size="21.891" textLength="18.81" lengthAdjust="spacingAndGlyphs">=</tspan><tspan x="151.782" y="0"> </tspan><tspan x="158.649" y="0.091" font-size="26.631" textLength="13.833" lengthAdjust="spacingAndGlyphs">5</tspan><tspan x="174.24" y="0.091" font-size="26.709" textLength="14.657" lengthAdjust="spacingAndGlyphs">0</tspan></text>
<text font-size="25" transform="translate(663.3 118.25)"><tspan x="0.695" y="-0.004" font-size="26.493" textLength="13.088" lengthAdjust="spacingAndGlyphs">F</tspan><tspan x="14.612" y="0.096" font-size="26.203" textLength="15.019" lengthAdjust="spacingAndGlyphs">e</tspan><tspan x="29.999" y="0.094" font-size="26.351" textLength="15.111" lengthAdjust="spacingAndGlyphs">d</tspan><tspan x="45.714" y="-0.004" font-size="26.493" textLength="16.922" lengthAdjust="spacingAndGlyphs">V</tspan><tspan x="62.956" y="0.091" font-size="26.709" textLength="16.762" lengthAdjust="spacingAndGlyphs">C</tspan><tspan x="80.827" y="-0.004" font-size="26.493" textLength="14.75" lengthAdjust="spacingAndGlyphs">P</tspan><tspan x="93.921" y="-0.37" font-size="25.58" textLength="10.118" lengthAdjust="spacingAndGlyphs">,</tspan><tspan x="104.039" y="0"> </tspan><tspan x="111.395" y="0.082" font-size="26.334" textLength="15.03" lengthAdjust="spacingAndGlyphs" font-style="italic">d</tspan><tspan x="126.425" y="0"> </tspan><tspan x="132.973" y="-0.624" font-size="21.891" textLength="18.81" lengthAdjust="spacingAndGlyphs">=</tspan><tspan x="151.782" y="0"> </tspan><tspan x="158.27" y="-0.004" font-size="26.573" textLength="14.125" lengthAdjust="spacingAndGlyphs">2</tspan><tspan x="174.24" y="0.091" font-size="26.709" textLength="14.657" lengthAdjust="spacingAndGlyphs">0</tspan><tspan x="190.145" y="0.091" font-size="26.709" textLength="14.657" lengthAdjust="spacingAndGlyphs">0</tspan></text>
<text font-size="25" transform="translate(663.3 154.75)"><tspan x="0.695" y="-0.004" font-size="26.493" textLength="13.088" lengthAdjust="spacingAndGlyphs">F</tspan><tspan x="14.612" y="0.096" font-size="26.203" textLength="15.019" lengthAdjust="spacingAndGlyphs">e</tspan><tspan x="29.999" y="0.094" font-size="26.351" textLength="15.111" lengthAdjust="spacingAndGlyphs">d</tspan><tspan x="45.655" y="-0.052" font-size="25.6" textLength="8.973" lengthAdjust="spacingAndGlyphs">-</tspan><tspan x="54.591" y="-0.004" font-size="26.018" textLength="23.731" lengthAdjust="spacingAndGlyphs">m</tspan><tspan x="79.22" y="-0.004" font-size="25.878" textLength="13.489" lengthAdjust="spacingAndGlyphs">v</tspan><tspan x="93.387" y="-0.052" font-size="25.6" textLength="8.973" lengthAdjust="spacingAndGlyphs">-</tspan><tspan x="103.021" y="-0.004" font-size="26.493" textLength="14.75" lengthAdjust="spacingAndGlyphs">P</tspan><tspan x="118.097" y="-0.004" font-size="26.493" textLength="14.75" lengthAdjust="spacingAndGlyphs">P</tspan><tspan x="132.757" y="0.091" font-size="26.709" textLength="16.762" lengthAdjust="spacingAndGlyphs">C</tspan><tspan x="150.136" y="-0.004" font-size="26.493" textLength="16.798" lengthAdjust="spacingAndGlyphs">A</tspan><tspan x="165.75" y="-0.37" font-size="25.58" textLength="10.118" lengthAdjust="spacingAndGlyphs">,</tspan><tspan x="175.868" y="0"> </tspan><tspan x="183.223" y="0.082" font-size="26.334" textLength="15.03" lengthAdjust="spacingAndGlyphs" font-style="italic">d</tspan><tspan x="198.253" y="0"> </tspan><tspan x="204.801" y="-0.624" font-size="21.891" textLength="18.81" lengthAdjust="spacingAndGlyphs">=</tspan><tspan x="223.61" y="0"> </tspan><tspan x="230.372" y="-0.004" font-size="26.493" textLength="13.998" lengthAdjust="spacingAndGlyphs">1</tspan><tspan x="246.068" y="0.091" font-size="26.709" textLength="14.657" lengthAdjust="spacingAndGlyphs">0</tspan></text>
<text font-size="25" transform="translate(663.3 191.25)"><tspan x="0.695" y="-0.004" font-size="26.493" textLength="13.088" lengthAdjust="spacingAndGlyphs">F</tspan><tspan x="14.612" y="0.096" font-size="26.203" textLength="15.019" lengthAdjust="spacingAndGlyphs">e</tspan><tspan x="29.999" y="0.094" font-size="26.351" textLength="15.111" lengthAdjust="spacingAndGlyphs">d</tspan><tspan x="45.655" y="-0.052" font-size="25.6" textLength="8.973" lengthAdjust="spacingAndGlyphs">-</tspan><tspan x="54.591" y="-0.004" font-size="26.018" textLength="23.731" lengthAdjust="spacingAndGlyphs">m</tspan><tspan x="79.22" y="-0.004" font-size="25.878" textLength="13.489" lengthAdjust="spacingAndGlyphs">v</tspan><tspan x="93.387" y="-0.052" font-size="25.6" textLength="8.973" lengthAdjust="spacingAndGlyphs">-</tspan><tspan x="103.021" y="-0.004" font-size="26.493" textLength="14.75" lengthAdjust="spacingAndGlyphs">P</tspan><tspan x="118.097" y="-0.004" font-size="26.493" textLength="14.75" lengthAdjust="spacingAndGlyphs">P</tspan><tspan x="132.757" y="0.091" font-size="26.709" textLength="16.762" lengthAdjust="spacingAndGlyphs">C</tspan><tspan x="150.136" y="-0.004" font-size="26.493" textLength="16.798" lengthAdjust="spacingAndGlyphs">A</tspan><tspan x="165.75" y="-0.37" font-size="25.58" textLength="10.118" lengthAdjust="spacingAndGlyphs">,</tspan><tspan x="175.868" y="0"> </tspan><tspan x="183.223" y="0.082" font-size="26.334" textLength="15.03" lengthAdjust="spacingAndGlyphs" font-style="italic">d</tspan><tspan x="198.253" y="0"> </tspan><tspan x="204.801" y="-0.624" font-size="21.891" textLength="18.81" lengthAdjust="spacingAndGlyphs">=</tspan><tspan x="223.61" y="0"> </tspan><tspan x="230.477" y="0.091" font-size="26.631" textLength="13.833" lengthAdjust="spacingAndGlyphs">5</tspan><tspan x="246.068" y="0.091" font-size="26.709" textLength="14.657" lengthAdjust="spacingAndGlyphs">0</tspan></text>
<text font-size="25" transform="translate(663.3 227.75)"><tspan x="0.695" y="-0.004" font-size="26.493" textLength="13.088" lengthAdjust="spacingAndGlyphs">F</tspan><tspan x="14.612" y="0.096" font-size="26.203" textLength="15.019" lengthAdjust="spacingAndGlyphs">e</tspan><tspan x="29.999" y="0.094" font-size="26.351" textLength="15.111" lengthAdjust="spacingAndGlyphs">d</tspan><tspan x="45.655" y="-0.052" font-size="25.6" textLength="8.973" lengthAdjust="spacingAndGlyphs">-</tspan><tspan x="54.591" y="-0.004" font-size="26.018" textLength="23.731" lengthAdjust="spacingAndGlyphs">m</tspan><tspan x="79.22" y="-0.004" font-size="25.878" textLength="13.489" lengthAdjust="spacingAndGlyphs">v</tspan><tspan x="93.387" y="-0.052" font-size="25.6" textLength="8.973" lengthAdjust="spacingAndGlyphs">-</tspan><tspan x="103.021" y="-0.004" font-size="26.493" textLength="14.75" lengthAdjust="spacingAndGlyphs">P</tspan><tspan x="118.097" y="-0.004" font-size="26.493" textLength="14.75" lengthAdjust="spacingAndGlyphs">P</tspan><tspan x="132.757" y="0.091" font-size="26.709" textLength="16.762" lengthAdjust="spacingAndGlyphs">C</tspan><tspan x="150.136" y="-0.004" font-size="26.493" textLength="16.798" lengthAdjust="spacingAndGlyphs">A</tspan><tspan x="165.75" y="-0.37" font-size="25.58" textLength="10.118" lengthAdjust="spacingAndGlyphs">,</tspan><tspan x="175.868" y="0"> </tspan><tspan x="183.223" y="0.082" font-size="26.334" textLength="15.03" lengthAdjust="spacingAndGlyphs" font-style="italic">d</tspan><tspan x="198.253" y="0"> </tspan><tspan x="204.801" y="-0.624" font-size="21.891" textLength="18.81" lengthAdjust="spacingAndGlyphs">=</tspan><tspan x="223.61" y="0"> </tspan><tspan x="230.098" y="-0.004" font-size="26.573" textLength="14.125" lengthAdjust="spacingAndGlyphs">2</tspan><tspan x="246.068" y="0.091" font-size="26.709" textLength="14.657" lengthAdjust="spacingAndGlyphs">0</tspan><tspan x="261.973" y="0.091" font-size="26.709" textLength="14.657" lengthAdjust="spacingAndGlyphs">0</tspan></text>
<text font-size="25" transform="translate(663.3 264.25)"><tspan x="0.331" y="-0.004" font-size="26.493" textLength="18.68" lengthAdjust="spacingAndGlyphs">D</tspan><tspan x="19.946" y="-0.004" font-size="26.493" textLength="13.088" lengthAdjust="spacingAndGlyphs">F</tspan><tspan x="34.008" y="-0.004" font-size="26.018" textLength="23.731" lengthAdjust="spacingAndGlyphs">m</tspan><tspan x="58.623" y="-0.004" font-size="26.493" textLength="14.75" lengthAdjust="spacingAndGlyphs">P</tspan><tspan x="73.085" y="-0.052" font-size="25.6" textLength="8.973" lengthAdjust="spacingAndGlyphs">-</tspan><tspan x="82.717" y="0.091" font-size="26.709" textLength="14.863" lengthAdjust="spacingAndGlyphs">S</tspan><tspan x="98.377" y="-0.004" font-size="26.493" textLength="17.832" lengthAdjust="spacingAndGlyphs">N</tspan><tspan x="115.308" y="-0.37" font-size="25.58" textLength="10.118" lengthAdjust="spacingAndGlyphs">,</tspan><tspan x="125.426" y="0"> </tspan><tspan x="132.782" y="0.082" font-size="26.334" textLength="15.03" lengthAdjust="spacingAndGlyphs" font-style="italic">d</tspan><tspan x="147.812" y="0"> </tspan><tspan x="154.359" y="-0.624" font-size="21.891" textLength="18.81" lengthAdjust="spacingAndGlyphs">=</tspan><tspan x="173.169" y="0"> </tspan><tspan x="179.931" y="-0.004" font-size="26.493" textLength="13.998" lengthAdjust="spacingAndGlyphs">1</tspan><tspan x="195.626" y="0.091" font-size="26.709" textLength="14.657" lengthAdjust="spacingAndGlyphs">0</tspan></text>
<text font-size="25" transform="translate(663.3 300.75)"><tspan x="0.331" y="-0.004" font-size="26.493" textLength="18.68" lengthAdjust="spacingAndGlyphs">D</tspan><tspan x="19.946" y="-0.004" font-size="26.493" textLength="13.088" lengthAdjust="spacingAndGlyphs">F</tspan><tspan x="34.008" y="-0.004" font-size="26.018" textLength="23.731" lengthAdjust="spacingAndGlyphs">m</tspan><tspan x="58.623" y="-0.004" font-size="26.493" textLength="14.75" lengthAdjust="spacingAndGlyphs">P</tspan><tspan x="73.085" y="-0.052" font-size="25.6" textLength="8.973" lengthAdjust="spacingAndGlyphs">-</tspan><tspan x="82.717" y="0.091" font-size="26.709" textLength="14.863" lengthAdjust="spacingAndGlyphs">S</tspan><tspan x="98.377" y="-0.004" font-size="26.493" textLength="17.832" lengthAdjust="spacingAndGlyphs">N</tspan><tspan x="115.308" y="-0.37" font-size="25.58" textLength="10.118" lengthAdjust="spacingAndGlyphs">,</tspan><tspan x="125.426" y="0"> </tspan><tspan x="132.782" y="0.082" font-size="26.334" textLength="15.03" lengthAdjust="spacingAndGlyphs" font-style="italic">d</tspan><tspan x="147.812" y="0"> </tspan><tspan x="154.359" y="-0.624" font-size="21.891" textLength="18.81" lengthAdjust="spacingAndGlyphs">=</tspan><tspan x="173.169" y="0"> </tspan><tspan x="180.035" y="0.091" font-size="26.631" textLength="13.833" lengthAdjust="spacingAndGlyphs">5</tspan><tspan x="195.626" y="0.091" font-size="26.709" textLength="14.657" lengthAdjust="spacingAndGlyphs">0</tspan></text>
<text font-size="25" transform="translate(663.3 337.25)"><tspan x="0.331" y="-0.004" font-size="26.493" textLength="18.68" lengthAdjust="spacingAndGlyphs">D</tspan><tspan x="19.946" y="-0.004" font-size="26.493" textLength="13.088" lengthAdjust="spacingAndGlyphs">F</tspan><tspan x="34.008" y="-0.004" font-size="26.018" textLength="23.731" lengthAdjust="spacingAndGlyphs">m</tspan><tspan x="58.623" y="-0.004" font-size="26.493" textLength="14.75" lengthAdjust="spacingAndGlyphs">P</tspan><tspan x="73.085" y="-0.052" font-size="25.6" textLength="8.973" lengthAdjust="spacingAndGlyphs">-</tspan><tspan x="82.717" y="0.091" font-size="26.709" textLength="14.863" lengthAdjust="spacingAndGlyphs">S</tspan><tspan x="98.377" y="-0.004" font-size="26.493" textLength="17.832" lengthAdjust="spacingAndGlyphs">N</tspan><tspan x="115.308" y="-0.37" font-size="25.58" textLength="10.118" lengthAdjust="spacingAndGlyphs">,</tspan><tspan x="125.426" y="0"> </tspan><tspan x="132.782" y="0.082" font-size="26.334" textLength="15.03" lengthAdjust="spacingAndGlyphs" font-style="italic">d</tspan><tspan x="147.812" y="0"> </tspan><tspan x="154.359" y="-0.624" font-size="21.891" textLength="18.81" lengthAdjust="spacingAndGlyphs">=</tspan><tspan x="173.169" y="0"> </tspan><tspan x="179.656" y="-0.004" font-size="26.573" textLength="14.125" lengthAdjust="spacingAndGlyphs">2</tspan><tspan x="195.626" y="0.091" font-size="26.709" textLength="14.657" lengthAdjust="spacingAndGlyphs">0</tspan><tspan x="211.532" y="0.091" font-size="26.709" textLength="14.657" lengthAdjust="spacingAndGlyphs">0</tspan></text></g>
</svg></body></html>
